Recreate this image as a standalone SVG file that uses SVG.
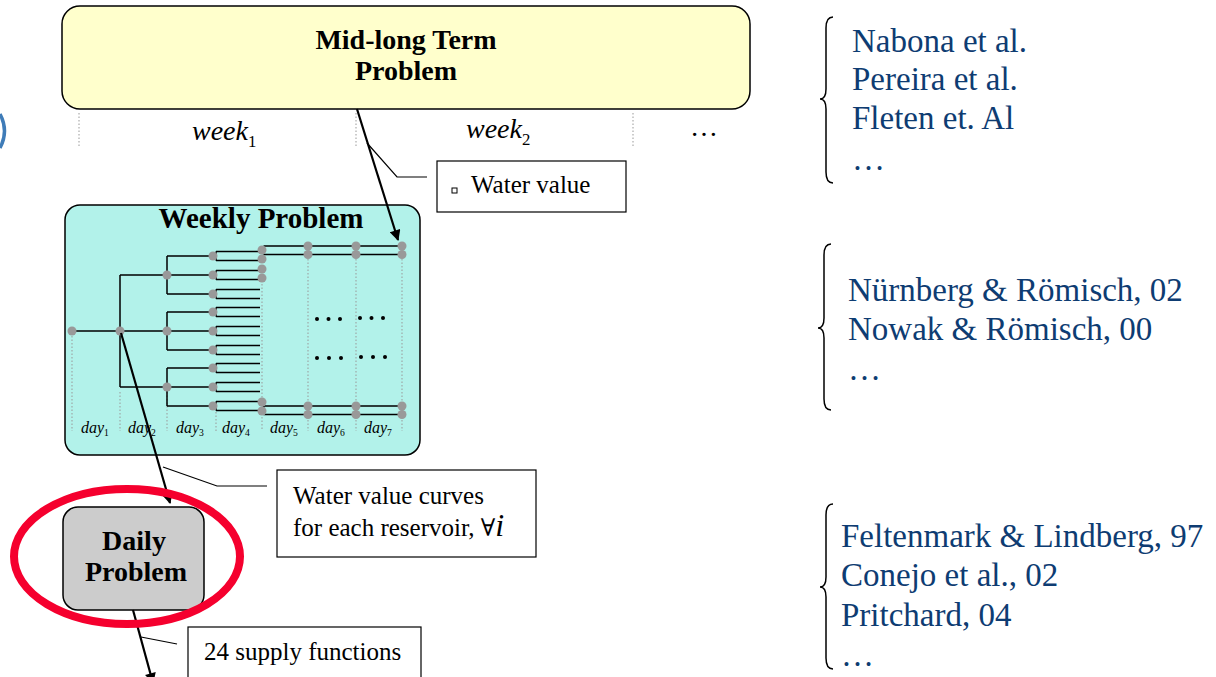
<svg xmlns="http://www.w3.org/2000/svg" width="1216" height="677" viewBox="0 0 1216 677">
<defs>
<style>
.box{stroke:#000;stroke-width:1.5}
.title{font-family:"Liberation Serif","Times New Roman",serif;font-weight:bold;font-size:29px;fill:#000;text-anchor:middle}
.title2{font-family:"Liberation Serif","Times New Roman",serif;font-weight:bold;font-size:28px;fill:#000;text-anchor:middle}
.call{font-family:"Liberation Serif","Times New Roman",serif;font-size:25px;fill:#000}
.ref{font-family:"Liberation Serif","Times New Roman",serif;font-size:33px;fill:#0E3C72}
.week{font-family:"Liberation Serif","Times New Roman",serif;font-style:italic;font-size:28px;fill:#000}
.day{font-family:"Liberation Serif","Times New Roman",serif;font-style:italic;font-size:16px;fill:#000}
.sub{font-size:0.6em;font-style:normal}
.dot{stroke:#999;stroke-width:1;stroke-dasharray:1.5 2;fill:none}
.tl{stroke:#000;stroke-width:1.5;fill:none}
.nd{fill:#999}
.conn{stroke:#000;stroke-width:2.2;fill:none}
.lead{stroke:#000;stroke-width:1.2;fill:none}
.brace{stroke:#000;stroke-width:1.5;fill:none}
</style>
<marker id="ah" viewBox="0 0 10 10" refX="9" refY="5" markerWidth="5.5" markerHeight="5" orient="auto" markerUnits="strokeWidth">
<path d="M0,0 L10,5 L0,10 z" fill="#000"/>
</marker>
</defs>
<rect width="1216" height="677" fill="#fff"/>

<!-- left blue arc -->
<path d="M0,114 Q9,131 0,148" stroke="#3F7CB8" stroke-width="3.5" fill="none"/>

<!-- Mid-long term -->
<g id="midlong">
<rect class="box" x="62" y="6" width="688" height="103" rx="18" fill="#FFFFCC"/>
<text class="title2" x="406" y="49">Mid-long Term</text>
<text class="title2" x="406" y="80">Problem</text>
</g>

<!-- week axis -->
<g id="weeks">
<line class="dot" x1="79" y1="113" x2="79" y2="146"/>
<line class="dot" x1="356" y1="113" x2="356" y2="146"/>
<line class="dot" x1="633" y1="113" x2="633" y2="146"/>
<text class="week" x="192" y="140">week<tspan class="sub" dy="7">1</tspan></text>
<text class="week" x="466" y="138">week<tspan class="sub" dy="7">2</tspan></text>
<text class="week" x="690" y="136" style="font-style:normal">…</text>
</g>

<!-- Weekly problem -->
<g id="weekly">
<rect class="box" x="65" y="205" width="355" height="250" rx="15" fill="#B2F2EA"/>
<text class="title" x="261" y="228">Weekly Problem</text>
<g class="dots">
<line class="dot" x1="72" y1="336" x2="72" y2="431"/>
<line class="dot" x1="120" y1="392" x2="120" y2="431"/>
<line class="dot" x1="167" y1="392" x2="167" y2="431"/>
<line class="dot" x1="216" y1="412" x2="216" y2="431"/>
<line class="dot" x1="262" y1="284" x2="262" y2="431"/>
<line class="dot" x1="308" y1="259" x2="308" y2="431"/>
<line class="dot" x1="356" y1="259" x2="356" y2="431"/>
<line class="dot" x1="402" y1="259" x2="402" y2="431"/>
</g>
<path class="tl" d="M72,331 H167 M120,275 V387 M120,275 H213 M120,387 H213
M167,256 V294 M167,256 H213 M167,294 H213
M167,312 V350 M167,312 H213 M167,331 H213 M167,350 H213
M167,368 V406 M167,368 H213 M167,406 H213"/>
<path class="tl" d="M213,256 H216 M216,251.5 V260.5 M216,251.5 H260 M216,260.5 H260
M213,275 H216 M216,270.5 V279.5 M216,270.5 H260 M216,279.5 H260
M213,294 H216 M216,289.5 V298.5 M216,289.5 H260 M216,298.5 H260
M213,312 H216 M216,307.5 V316.5 M216,307.5 H260 M216,316.5 H260
M213,331 H216 M216,326.5 V335.5 M216,326.5 H260 M216,335.5 H260
M213,350 H216 M216,345.5 V354.5 M216,345.5 H260 M216,354.5 H260
M213,368 H216 M216,363.5 V372.5 M216,363.5 H260 M216,372.5 H260
M213,387 H216 M216,382.5 V391.5 M216,382.5 H260 M216,391.5 H260
M213,406 H216 M216,401.5 V410.5 M216,401.5 H260 M216,410.5 H260"/>
<path class="tl" d="M263.5,246 V254.5 M263.5,246 H402 M263.5,254.5 H402
M263.5,406 V414.5 M263.5,406 H402 M263.5,414.5 H402"/>
<g class="nd">
<circle cx="72" cy="331" r="4.5"/>
<circle cx="120" cy="331" r="4.5"/>
<circle cx="167" cy="275" r="4.5"/><circle cx="167" cy="331" r="4.5"/><circle cx="167" cy="387" r="4.5"/>
<circle cx="213" cy="256" r="4.5"/><circle cx="213" cy="275" r="4.5"/><circle cx="213" cy="294" r="4.5"/>
<circle cx="213" cy="312" r="4.5"/><circle cx="213" cy="331" r="4.5"/><circle cx="213" cy="350" r="4.5"/>
<circle cx="213" cy="368" r="4.5"/><circle cx="213" cy="387" r="4.5"/><circle cx="213" cy="406" r="4.5"/>
<circle cx="262" cy="250" r="4.5"/><circle cx="262" cy="259" r="4.5"/>
<circle cx="262" cy="269" r="4.5"/><circle cx="262" cy="278" r="4.5"/>
<circle cx="262" cy="402" r="4.5"/><circle cx="262" cy="411" r="4.5"/>
<circle cx="308" cy="246" r="4.5"/><circle cx="308" cy="254.5" r="4.5"/>
<circle cx="356" cy="246" r="4.5"/><circle cx="356" cy="254.5" r="4.5"/>
<circle cx="402" cy="246" r="4.5"/><circle cx="402" cy="254.5" r="4.5"/>
<circle cx="308" cy="406" r="4.5"/><circle cx="308" cy="414.5" r="4.5"/>
<circle cx="356" cy="406" r="4.5"/><circle cx="356" cy="414.5" r="4.5"/>
<circle cx="402" cy="406" r="4.5"/><circle cx="402" cy="414.5" r="4.5"/>
</g>
<g fill="#000">
<circle cx="317" cy="319" r="2"/><circle cx="328.5" cy="319" r="2"/><circle cx="340" cy="319" r="2"/>
<circle cx="360" cy="318" r="2"/><circle cx="371.5" cy="318" r="2"/><circle cx="383" cy="318" r="2"/>
<circle cx="317" cy="358" r="2"/><circle cx="329" cy="358" r="2"/><circle cx="341" cy="358" r="2"/>
<circle cx="361" cy="357" r="2"/><circle cx="373" cy="357" r="2"/><circle cx="385" cy="357" r="2"/>
</g>
<text class="day" x="81" y="433">day<tspan class="sub" dy="3">1</tspan></text>
<text class="day" x="128" y="433">day<tspan class="sub" dy="3">2</tspan></text>
<text class="day" x="176" y="433">day<tspan class="sub" dy="3">3</tspan></text>
<text class="day" x="222" y="433">day<tspan class="sub" dy="3">4</tspan></text>
<text class="day" x="270" y="433">day<tspan class="sub" dy="3">5</tspan></text>
<text class="day" x="317" y="433">day<tspan class="sub" dy="3">6</tspan></text>
<text class="day" x="364" y="433">day<tspan class="sub" dy="3">7</tspan></text>
</g>

<!-- Daily problem -->
<g id="daily">
<rect class="box" x="63" y="507" width="141" height="103" rx="15" fill="#CCCCCC"/>
<text class="title2" x="134" y="550">Daily</text>
<text class="title2" x="136" y="581">Problem</text>
</g>

<!-- callout boxes -->
<g id="waterValue">
<rect x="437" y="161" width="189" height="51" fill="#fff" stroke="#000" stroke-width="1.2"/>
<rect x="452" y="188" width="5" height="5" fill="none" stroke="#000" stroke-width="1"/>
<text class="call" x="471" y="193">Water value</text>
</g>
<g id="waterCurves">
<rect x="277" y="470" width="259" height="87" fill="#fff" stroke="#000" stroke-width="1.2"/>
<text class="call" x="293" y="504">Water value curves</text>
<text class="call" x="293" y="536">for each reservoir, <tspan font-family="'DejaVu Serif',serif" font-size="24">∀</tspan><tspan font-style="italic" font-size="32">i</tspan></text>
</g>
<g id="supply">
<rect x="188" y="627" width="233" height="60" fill="#fff" stroke="#000" stroke-width="1.2"/>
<text class="call" x="204" y="660">24 supply functions</text>
</g>

<!-- connectors -->
<g id="connectors">
<line class="conn" x1="357" y1="109" x2="398" y2="240" marker-end="url(#ah)"/>
<polyline class="lead" points="367,143 397,177 427,177"/>
<line class="conn" x1="121" y1="333" x2="170" y2="503" marker-end="url(#ah)"/>
<polyline class="lead" points="163,467 217,486 267,486"/>
<line class="conn" x1="133" y1="610" x2="153" y2="683" marker-end="url(#ah)"/>
<polyline class="lead" points="141,637 177,644"/>
</g>

<!-- red highlight ellipse -->
<ellipse id="highlight" cx="127" cy="556.5" rx="113" ry="67.5" fill="none" stroke="#F5002E" stroke-width="8"/>

<!-- references -->
<g id="refs1">
<path class="brace" d="M833,17 Q826,17 826,28 L826,89 Q826,99 820,99 Q826,99 826,109 L826,172 Q826,183 833,183"/>
<text class="ref" x="852" y="52">Nabona et al.</text>
<text class="ref" x="852" y="90">Pereira et al.</text>
<text class="ref" x="852" y="129">Fleten et. Al</text>
<text class="ref" x="852" y="170">…</text>
</g>
<g id="refs2">
<path class="brace" d="M831,244 Q824,244 824,255 L824,318 Q824,328 818,328 Q824,328 824,338 L824,399 Q824,410 831,410"/>
<text class="ref" x="848" y="301">Nürnberg &amp; Römisch, 02</text>
<text class="ref" x="848" y="340">Nowak &amp; Römisch, 00</text>
<text class="ref" x="848" y="380">…</text>
</g>
<g id="refs3">
<path class="brace" d="M833,504 Q826,504 826,515 L826,577 Q826,587 820,587 Q826,587 826,597 L826,658 Q826,669 833,669"/>
<text class="ref" x="841" y="547">Feltenmark &amp; Lindberg, 97</text>
<text class="ref" x="841" y="586">Conejo et al., 02</text>
<text class="ref" x="841" y="626">Pritchard, 04</text>
<text class="ref" x="841" y="666">…</text>
</g>
</svg>
